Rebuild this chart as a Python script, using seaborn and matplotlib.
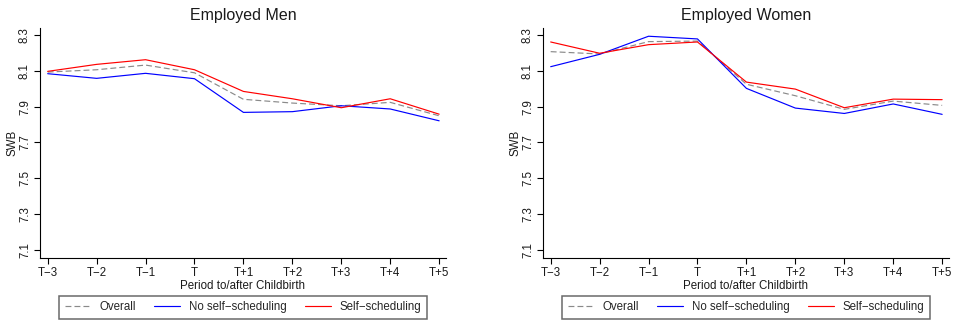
import matplotlib
matplotlib.use("Agg")
import matplotlib.pyplot as plt
import numpy as np
import pandas as pd
import seaborn as sns

# Period relative to childbirth
periods = ["T\u22123", "T\u22122", "T\u22121", "T", "T+1", "T+2", "T+3", "T+4", "T+5"]
series_names = ["Overall", "No self\u2212scheduling", "Self\u2212scheduling"]

# Mean subjective well-being (SWB), employed men
men_overall = [8.093, 8.106, 8.132, 8.089, 7.941, 7.920, 7.905, 7.924, 7.849]
men_no_self = [8.084, 8.058, 8.086, 8.056, 7.868, 7.872, 7.905, 7.887, 7.821]
men_self = [8.097, 8.136, 8.162, 8.106, 7.985, 7.944, 7.894, 7.944, 7.858]

# Mean subjective well-being (SWB), employed women
women_overall = [8.207, 8.194, 8.263, 8.266, 8.025, 7.961, 7.885, 7.931, 7.907]
women_no_self = [8.123, 8.192, 8.293, 8.278, 8.002, 7.892, 7.862, 7.915, 7.857]
women_self = [8.261, 8.198, 8.246, 8.261, 8.037, 7.998, 7.894, 7.942, 7.939]

y_ticks = [7.1, 7.3, 7.5, 7.7, 7.9, 8.1, 8.3]

sns.set_theme(style="ticks")
plt.rcParams["font.family"] = ["Liberation Sans", "DejaVu Sans"]
plt.rcParams["axes.linewidth"] = 0.8


def long_frame(overall, no_self, self_sched):
    rows = []
    for name, vals in zip(series_names, [overall, no_self, self_sched]):
        for i, v in enumerate(vals):
            rows.append({"period": i, "SWB": v, "group": name})
    return pd.DataFrame(rows)


LW = 0.85
palette = {series_names[0]: "#8a8a8a", series_names[1]: "#0000ff", series_names[2]: "#ff0000"}
dashes = {series_names[0]: (5.0, 2.6), series_names[1]: "", series_names[2]: ""}

fig = plt.figure(figsize=(9.62, 3.21), dpi=100)
W, H = 962, 321

panels = [
    ("Employed Men", long_frame(men_overall, men_no_self, men_self), 40),
    ("Employed Women", long_frame(women_overall, women_no_self, women_self), 543),
]

for title, df, left_px in panels:
    ax = fig.add_axes([left_px / W, (H - 257.5) / H, 406 / W, 229.5 / H])
    sns.lineplot(data=df, x="period", y="SWB", hue="group", style="group",
                 palette=palette, dashes=dashes, linewidth=LW, ax=ax,
                 legend=False)
    ax.set_xlim(-0.157, 8.14)
    ax.set_ylim(7.058, 8.339)
    ax.set_xticks(range(len(periods)))
    ax.set_xticklabels(periods, fontsize=8.3)
    ax.set_yticks(y_ticks)
    ax.set_yticklabels([f"{t:.1f}" for t in y_ticks], fontsize=8.3,
                       rotation=90, va="center")
    ax.tick_params(axis="both", length=4, width=0.8, color="black",
                   labelcolor="#1a1a1a", pad=2.5)
    ax.set_xlabel("Period to/after Childbirth", fontsize=8.3, color="#1a1a1a",
                  labelpad=1)
    ax.set_ylabel("SWB", fontsize=8.3, color="#1a1a1a", labelpad=0)
    ax.set_title(title, fontsize=11.5, color="#1a1a1a", pad=6)
    sns.despine(ax=ax)
    for sp in ("left", "bottom"):
        ax.spines[sp].set_color("black")

    handles = []
    for n in series_names:
        h = plt.Line2D([], [], color=palette[n], linewidth=LW)
        if dashes[n]:
            h.set_dashes(dashes[n])
        handles.append(h)
    center = (left_px + 203) / W
    leg = ax.legend(handles, series_names, loc="upper center",
                    bbox_to_anchor=(center, 1 - 295.7 / H),
                    bbox_transform=fig.transFigure, ncol=3, fontsize=8.3,
                    frameon=True, fancybox=False, borderaxespad=0,
                    handlelength=2.26, handletextpad=0.72, columnspacing=1.6,
                    borderpad=0.5)
    leg.get_frame().set_edgecolor("#444444")
    leg.get_frame().set_linewidth(1.1)

fig.savefig("out.png", dpi=100)
